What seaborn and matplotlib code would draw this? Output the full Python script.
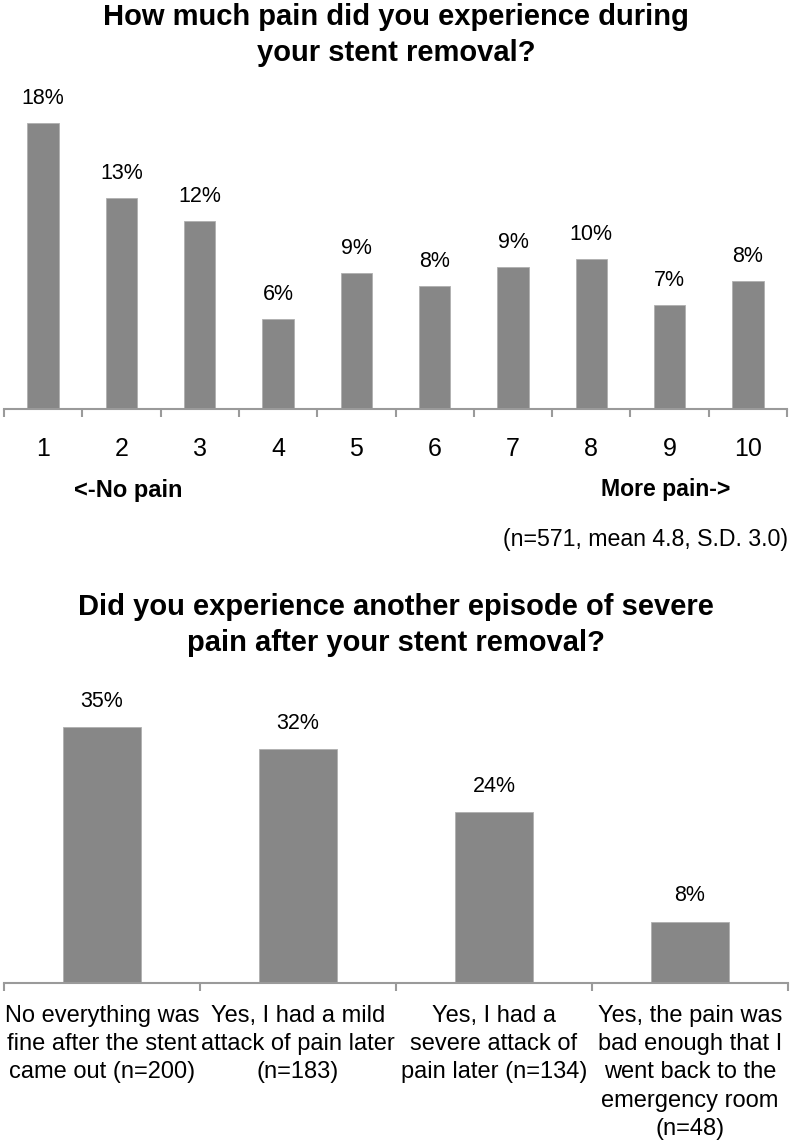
import numpy as np
import pandas as pd
import matplotlib
matplotlib.use("Agg")
import matplotlib.pyplot as plt
import seaborn as sns

# pain scale question
pain_scores = ["1", "2", "3", "4", "5", "6", "7", "8", "9", "10"]
pain_pct = [18.1, 13.35, 11.9, 5.7, 8.6, 7.8, 9.0, 9.5, 6.6, 8.1]
pain_labels = ["18%", "13%", "12%", "6%", "9%", "8%", "9%", "10%", "7%", "8%"]

# second episode question
episode_cats = [
    "No everything was\nfine after the stent\ncame out (n=200)",
    "Yes, I had a mild\nattack of pain later\n(n=183)",
    "Yes, I had a\nsevere attack of\npain later (n=134)",
    "Yes, the pain was\nbad enough that I\nwent back to the\nemergency room\n(n=48)",
]
episode_pct = [35.4, 32.4, 23.7, 8.5]
episode_labels = ["35%", "32%", "24%", "8%"]

sns.set_style("white")
plt.rcParams['font.family'] = ['Liberation Sans', 'DejaVu Sans']
plt.rcParams['text.color'] = 'black'
plt.rcParams['xtick.color'] = 'black'

BAR = "#878787"
AXIS = "#9a9a9a"
W, H = 792, 1142

fig = plt.figure(figsize=(W / 100, H / 100), dpi=100)


def px_axes(left, right, top, bottom):
    return fig.add_axes([left / W, 1 - bottom / H, (right - left) / W, (bottom - top) / H])


def style_axis(ax, n):
    for s in ["top", "right", "left"]:
        ax.spines[s].set_visible(False)
    ax.spines["bottom"].set_color(AXIS)
    ax.spines["bottom"].set_linewidth(1.5)
    ax.set_yticks([])
    ax.set_xlim(-0.5, n - 0.5)
    ax.set_xticks(np.arange(-0.5, n, 1.0), minor=True)
    ax.tick_params(axis="x", which="minor", bottom=True, length=6, width=1.5,
                   color=AXIS, direction="out")
    ax.set_xlabel("")
    ax.set_ylabel("")


# ---- top chart
ax1 = px_axes(4, 787, 80, 409)
df1 = pd.DataFrame({"score": pain_scores, "pct": pain_pct})
sns.barplot(data=df1, x="score", y="pct", color=BAR, width=0.4, saturation=1,
            edgecolor="#b0b0b0", linewidth=0.6, ax=ax1)
ax1.set_ylim(0, 329 / 15.8)
style_axis(ax1, len(pain_scores))
ax1.tick_params(axis="x", which="major", length=0, pad=20, labelsize=18, labelcolor="black")
for i, (v, lab) in enumerate(zip(pain_pct, pain_labels)):
    ax1.annotate(lab, (i, v), xytext=(0, 10), textcoords="offset points",
                 ha="center", va="bottom", fontsize=15.5)

fig.text(0.5, 1 - 35 / H, "How much pain did you experience during\nyour stent removal?",
         ha="center", va="center", fontsize=21, fontweight="bold", linespacing=1.4)
fig.text(74 / W, 1 - 490 / H, "<-No pain", ha="left", va="center", fontsize=17, fontweight="bold")
fig.text(730 / W, 1 - 489 / H, "More pain->", ha="right", va="center", fontsize=16.6, fontweight="bold")
fig.text(788 / W, 1 - 540 / H, "(n=571, mean 4.8, S.D. 3.0)", ha="right", va="center", fontsize=16.7)

# ---- bottom chart
ax2 = px_axes(4, 788, 690, 983)
df2 = pd.DataFrame({"answer": episode_cats, "pct": episode_pct})
sns.barplot(data=df2, x="answer", y="pct", color=BAR, width=0.4, saturation=1,
            edgecolor="#b0b0b0", linewidth=0.6, ax=ax2)
ax2.set_ylim(0, 293 / 7.22)
style_axis(ax2, len(episode_cats))
ax2.tick_params(axis="x", which="major", length=0, pad=16, labelsize=17, labelcolor="black")
for t in ax2.get_xticklabels():
    t.set_linespacing(1.36)
for i, (v, lab) in enumerate(zip(episode_pct, episode_labels)):
    ax2.annotate(lab, (i, v), xytext=(0, 11), textcoords="offset points",
                 ha="center", va="bottom", fontsize=15.5)

fig.text(0.5, 1 - 625 / H, "Did you experience another episode of severe\npain after your stent removal?",
         ha="center", va="center", fontsize=21, fontweight="bold", linespacing=1.4)

fig.savefig("out.png", dpi=100)
